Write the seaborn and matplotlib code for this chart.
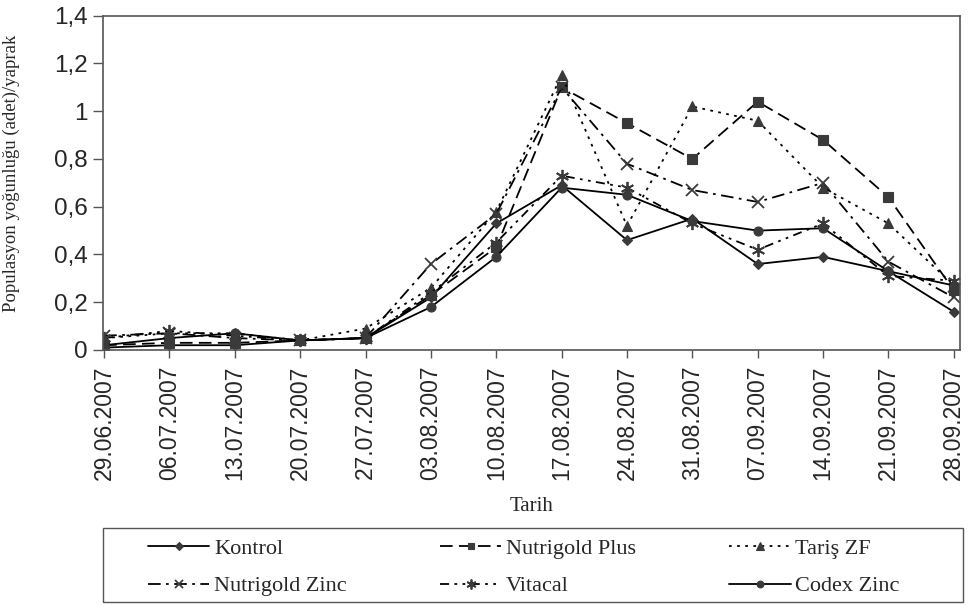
import matplotlib
matplotlib.use("Agg")
import matplotlib.pyplot as plt
from matplotlib.ticker import FixedLocator, FuncFormatter
from matplotlib.patches import Rectangle
import seaborn as sns
import pandas as pd

dates = ["29.06.2007", "06.07.2007", "13.07.2007", "20.07.2007", "27.07.2007",
         "03.08.2007", "10.08.2007", "17.08.2007", "24.08.2007", "31.08.2007",
         "07.09.2007", "14.09.2007", "21.09.2007", "28.09.2007"]

kontrol = [0.01, 0.02, 0.02, 0.04, 0.05, 0.22, 0.53, 0.69, 0.46, 0.55, 0.36, 0.39, 0.33, 0.16]
nutrigold_plus = [0.02, 0.03, 0.03, 0.04, 0.05, 0.23, 0.43, 1.10, 0.95, 0.80, 1.04, 0.88, 0.64, 0.25]
taris_zf = [0.05, 0.07, 0.07, 0.04, 0.09, 0.26, 0.58, 1.15, 0.52, 1.02, 0.96, 0.68, 0.53, 0.27]
nutrigold_zinc = [0.06, 0.07, 0.05, 0.04, 0.05, 0.36, 0.57, 1.10, 0.78, 0.67, 0.62, 0.70, 0.37, 0.22]
vitacal = [0.05, 0.08, 0.06, 0.04, 0.05, 0.24, 0.45, 0.73, 0.68, 0.53, 0.42, 0.53, 0.31, 0.29]
codex_zinc = [0.02, 0.05, 0.07, 0.04, 0.05, 0.18, 0.39, 0.68, 0.65, 0.54, 0.50, 0.51, 0.33, 0.27]

series_names = ["Kontrol", "Nutrigold Plus", "Tariş ZF", "Nutrigold Zinc", "Vitacal", "Codex Zinc"]
series_values = [kontrol, nutrigold_plus, taris_zf, nutrigold_zinc, vitacal, codex_zinc]

y_ticks = [0, 0.2, 0.4, 0.6, 0.8, 1.0, 1.2, 1.4]

# marker, dash pattern, marker size and whether the marker is drawn with strokes only
styles = {
    "Kontrol": dict(marker="D", ls="-", ms=5.5, stroke=False),
    "Nutrigold Plus": dict(marker="s", ls=(0, (7, 3.5)), ms=6.5, stroke=False),
    "Tariş ZF": dict(marker="^", ls=(0, (1.5, 3)), ms=7.5, stroke=False),
    "Nutrigold Zinc": dict(marker="x", ls=(0, (7, 3, 1.5, 3)), ms=8.5, stroke=True),
    "Vitacal": dict(marker=(6, 2, 0), ls=(0, (5, 3, 1.5, 3, 1.5, 3)), ms=9.5, stroke=True),
    "Codex Zinc": dict(marker="o", ls="-", ms=6.5, stroke=False),
}

serif = ["Liberation Serif", "DejaVu Serif"]

sns.set_theme(style="white")
plt.rcParams["font.family"] = ["Liberation Sans", "DejaVu Sans"]

fig = plt.figure(figsize=(9.7, 6.05), dpi=100)
ax = fig.add_axes([0.106, 0.4215, 0.884, 0.5525])

frames = []
for name, vals in zip(series_names, series_values):
    frames.append(pd.DataFrame({"Tarih": dates, "value": vals, "seri": name}))
df = pd.concat(frames, ignore_index=True)

handles = {}
for name in series_names:
    st = styles[name]
    sub = df[df["seri"] == name]
    sns.lineplot(data=sub, x="Tarih", y="value", ax=ax, sort=False,
                 color="black", lw=1.3, linestyle=st["ls"],
                 marker=st["marker"], markersize=st["ms"],
                 markerfacecolor="#3a3a3a", markeredgecolor="#3a3a3a",
                 markeredgewidth=1.3 if st["stroke"] else 0.8, label=name, legend=False)
    handles[name] = ax.lines[-1]

ax.set_xlim(-0.02, 13.1)
ax.set_ylim(0, 1.4)
ax.yaxis.set_major_locator(FixedLocator(y_ticks))
ax.yaxis.set_major_formatter(FuncFormatter(
    lambda v, p: (f"{v:.1f}".rstrip("0").rstrip(".")).replace(".", ",")))
ax.set_xticks(range(len(dates)))
ax.set_xticklabels(dates, rotation=90, fontsize=16.5)
ax.tick_params(axis="y", labelsize=17.5, length=7, width=1, color="#555555",
               direction="out", left=True, pad=4)
ax.tick_params(axis="x", length=6, width=1, color="#555555", direction="out",
               bottom=True, pad=5)
for sp in ax.spines.values():
    sp.set_color("#555555")
    sp.set_linewidth(1.2)
ax.grid(False)

ax.set_ylabel("Populasyon yoğunluğu (adet)/yaprak", family=serif, fontsize=13.5)
ax.yaxis.set_label_coords(-0.097, 0.53)
ax.set_xlabel("")
fig.text(0.548, 0.163, "Tarih", ha="center", va="center", family=serif, fontsize=15)

# legend box spanning the plot width
fig.patches.append(Rectangle((103 / 970, 1 - 602 / 605), 860 / 970, 74 / 605,
                             transform=fig.transFigure, fill=False,
                             edgecolor="#555555", linewidth=1.0))

order = ["Kontrol", "Nutrigold Zinc", "Nutrigold Plus", "Vitacal", "Tariş ZF", "Codex Zinc"]
leg = fig.legend([handles[n] for n in order], order, ncol=3,
                 loc="center", bbox_to_anchor=(524 / 970, 1 - 567.5 / 605),
                 prop={"family": serif, "size": 16},
                 frameon=False, handlelength=2.75, handletextpad=0.22,
                 columnspacing=4.2, labelspacing=0.75, markerscale=0.75)

fig.savefig("out.png", dpi=100)
